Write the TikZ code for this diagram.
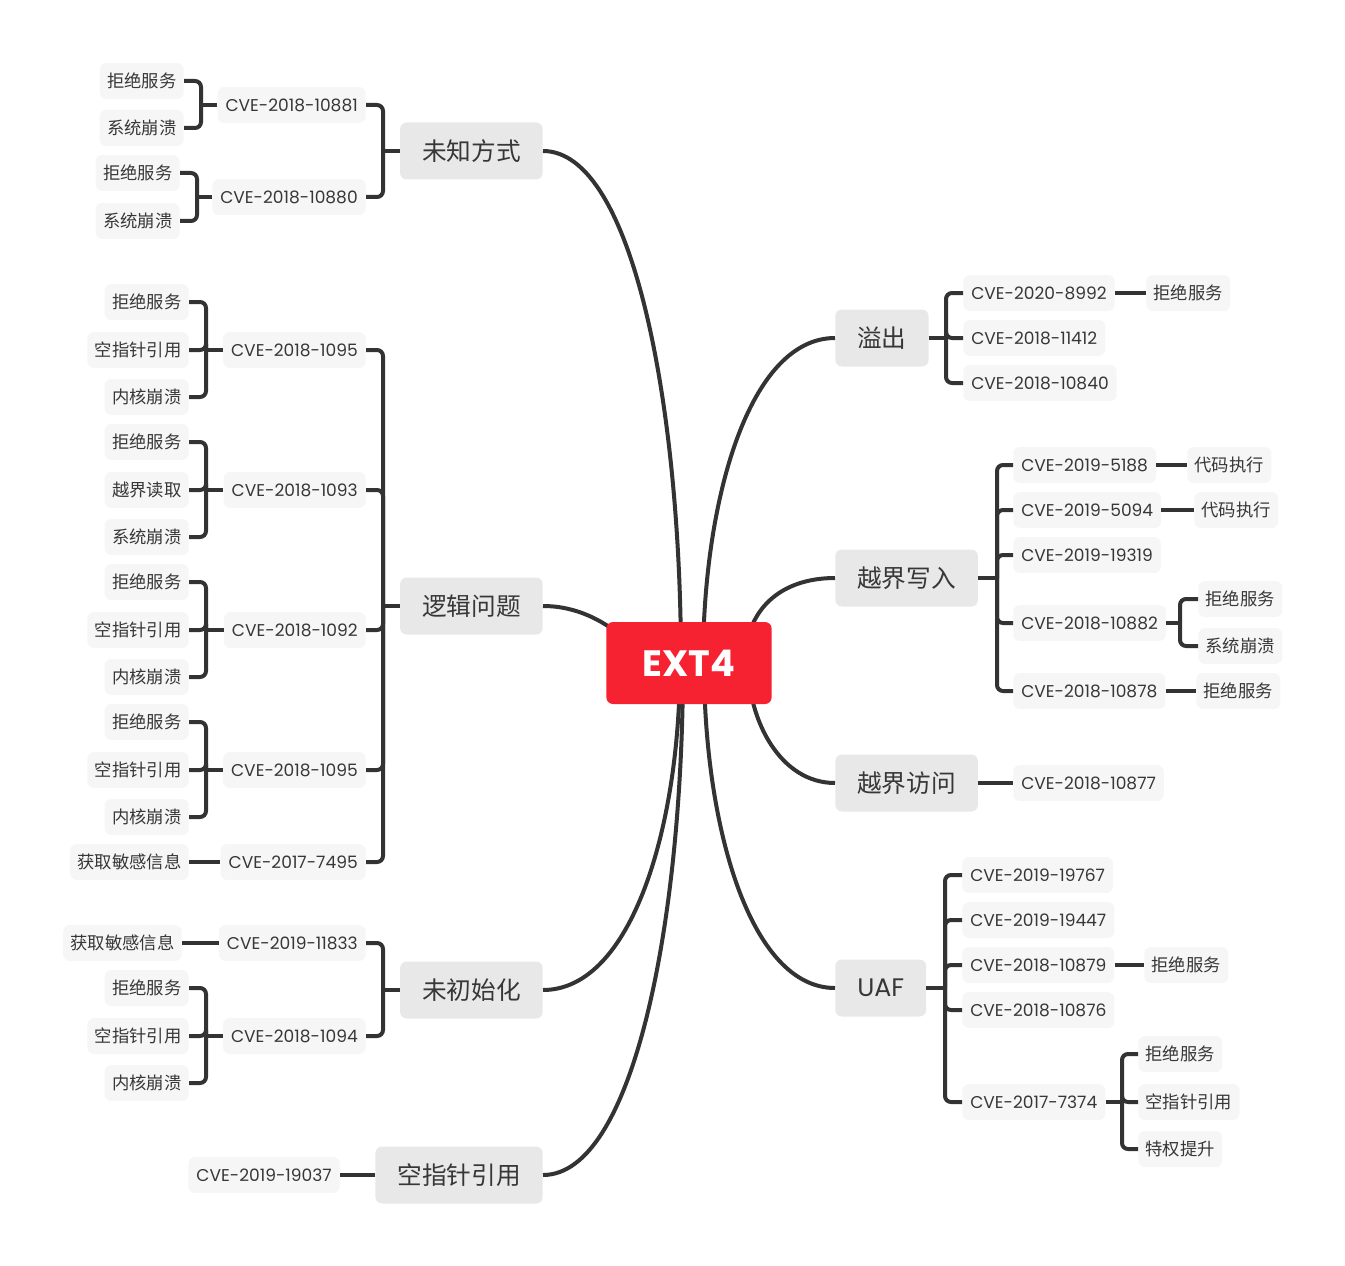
\documentclass[tikz,border=0pt]{standalone}
\usepackage{fontspec}
\setmainfont{Noto Sans CJK SC}
\newfontfamily\latinfont{Poppins}
\usepackage{tikz}
\usetikzlibrary{calc}
\definecolor{extred}{RGB}{246,33,49}
\definecolor{linegray}{RGB}{51,51,51}
\definecolor{topicgray}{RGB}{232,232,232}
\definecolor{leafgray}{RGB}{246,246,246}
\definecolor{textgray}{RGB}{55,55,55}
\tikzset{
    rootbox/.style={fill=extred, rounded corners=5pt, text=white, minimum width=124pt, minimum height=61.5pt,
        font=\latinfont\bfseries\fontsize{27.5pt}{30pt}\selectfont},
    topic/.style={fill=topicgray, rounded corners=5pt, text=textgray, minimum height=42.75pt, inner xsep=16.5pt,
        font=\fontsize{18.5pt}{21pt}\selectfont},
    cve/.style={fill=leafgray, rounded corners=5pt, text=textgray, minimum height=27pt, inner xsep=6pt,
        font=\latinfont\fontsize{12.8pt}{15pt}\selectfont},
    leaf/.style={fill=leafgray, rounded corners=5pt, text=textgray, minimum height=27pt, inner xsep=5.5pt,
        font=\fontsize{13pt}{15pt}\selectfont},
    branch/.style={draw=linegray, line width=3pt, rounded corners=4.5pt},
    curve/.style={draw=linegray, line width=3pt}
}

\begin{document}
\begin{tikzpicture}[x=0.75pt, y=-0.75pt]
    \useasboundingbox (0,0) rectangle (1345,1266);
    \coordinate (root) at (689,663);

    % Unknown way
    \node[topic, anchor=east] (unk) at (543,151) {未知方式};
    \coordinate (junk) at (383,151);
    \node[cve, anchor=east] (c10881) at (366,105) {CVE-2018-10881};
    \node[cve, anchor=east] (c10880) at (366,197) {CVE-2018-10880};
    \coordinate (j10881) at (201,105);
    \node[leaf, anchor=east] (c10881a) at (184,81) {拒绝服务};
    \node[leaf, anchor=east] (c10881b) at (184,128) {系统崩溃};
    \coordinate (j10880) at (197,197);
    \node[leaf, anchor=east] (c10880a) at (180,173) {拒绝服务};
    \node[leaf, anchor=east] (c10880b) at (180,221) {系统崩溃};
    \draw[branch] (unk.west) -- (junk);
    \draw[branch] (junk) |- (c10881.east);
    \draw[branch] (junk) |- (c10880.east);
    \draw[branch] (c10881.west) -- (j10881);
    \draw[branch] (j10881) |- (c10881a.east);
    \draw[branch] (j10881) |- (c10881b.east);
    \draw[branch] (c10880.west) -- (j10880);
    \draw[branch] (j10880) |- (c10880a.east);
    \draw[branch] (j10880) |- (c10880b.east);

    % Logic problems
    \node[topic, anchor=east] (logic) at (543,606) {逻辑问题};
    \coordinate (jlogic) at (383,606);
    \node[cve, anchor=east] (c1095a) at (366,350) {CVE-2018-1095};
    \node[cve, anchor=east] (c1093) at (366,490) {CVE-2018-1093};
    \node[cve, anchor=east] (c1092) at (366,630) {CVE-2018-1092};
    \node[cve, anchor=east] (c1095b) at (366,770) {CVE-2018-1095};
    \node[cve, anchor=east] (c7495) at (366,862) {CVE-2017-7495};
    \draw[branch] (logic.west) -- (jlogic);
    \foreach \c in {c1095a,c1093,c1092,c1095b,c7495}
        \draw[branch] (jlogic) |- (\c.east);

    \coordinate (jc1095a) at (206,350);
    \node[leaf, anchor=east] (c1095a1) at (189,302) {拒绝服务};
    \node[leaf, anchor=east] (c1095a2) at (189,350) {空指针引用};
    \node[leaf, anchor=east] (c1095a3) at (189,397) {内核崩溃};
    \coordinate (jc1093) at (206,490);
    \node[leaf, anchor=east] (c10931) at (189,442) {拒绝服务};
    \node[leaf, anchor=east] (c10932) at (189,490) {越界读取};
    \node[leaf, anchor=east] (c10933) at (189,537) {系统崩溃};
    \coordinate (jc1092) at (206,630);
    \node[leaf, anchor=east] (c10921) at (189,582) {拒绝服务};
    \node[leaf, anchor=east] (c10922) at (189,630) {空指针引用};
    \node[leaf, anchor=east] (c10923) at (189,677) {内核崩溃};
    \coordinate (jc1095b) at (206,770);
    \node[leaf, anchor=east] (c1095b1) at (189,722) {拒绝服务};
    \node[leaf, anchor=east] (c1095b2) at (189,770) {空指针引用};
    \node[leaf, anchor=east] (c1095b3) at (189,817) {内核崩溃};
    \node[leaf, anchor=east] (c74951) at (189,862) {获取敏感信息};
    \foreach \c in {c1095a,c1093,c1092,c1095b}{
        \draw[branch] (\c.west) -- (j\c);
        \foreach \i in {1,2,3}
            \draw[branch] (j\c) |- (\c\i.east);
    }
    \draw[branch] (c7495.west) -- (c74951.east);

    % Uninitialised
    \node[topic, anchor=east] (uninit) at (543,990) {未初始化};
    \coordinate (juninit) at (383,990);
    \node[cve, anchor=east] (c11833) at (366,943) {CVE-2019-11833};
    \node[cve, anchor=east] (c1094) at (366,1036) {CVE-2018-1094};
    \node[leaf, anchor=east] (c118331) at (182,943) {获取敏感信息};
    \coordinate (j1094) at (206,1036);
    \node[leaf, anchor=east] (c10941) at (189,988) {拒绝服务};
    \node[leaf, anchor=east] (c10942) at (189,1036) {空指针引用};
    \node[leaf, anchor=east] (c10943) at (189,1083) {内核崩溃};
    \draw[branch] (uninit.west) -- (juninit);
    \draw[branch] (juninit) |- (c11833.east);
    \draw[branch] (juninit) |- (c1094.east);
    \draw[branch] (c11833.west) -- (c118331.east);
    \draw[branch] (c1094.west) -- (j1094);
    \foreach \i in {1,2,3}
        \draw[branch] (j1094) |- (c1094\i.east);

    % Null pointer
    \node[topic, anchor=east] (nullp) at (543,1175) {空指针引用};
    \node[cve, anchor=east] (c19037) at (340,1175) {CVE-2019-19037};
    \draw[branch] (nullp.west) -- (c19037.east);

    % Overflow
    \node[topic, anchor=west] (ovf) at (835,338) {溢出};
    \coordinate (jovf) at (946,338);
    \node[cve, anchor=west] (c8992) at (963,293) {CVE-2020-8992};
    \node[cve, anchor=west] (c11412) at (963,338) {CVE-2018-11412};
    \node[cve, anchor=west] (c10840) at (963,383) {CVE-2018-10840};
    \node[leaf, anchor=west] (c89921) at (1146,293) {拒绝服务};
    \draw[branch] (ovf.east) -- (jovf);
    \foreach \c in {c8992,c11412,c10840}
        \draw[branch] (jovf) |- (\c.west);
    \draw[branch] (c8992.east) -- (c89921.west);

    % Out-of-bounds write
    \node[topic, anchor=west] (oobw) at (835,578) {越界写入};
    \coordinate (joobw) at (997,578);
    \node[cve, anchor=west] (c5188) at (1013,465) {CVE-2019-5188};
    \node[cve, anchor=west] (c5094) at (1013,510) {CVE-2019-5094};
    \node[cve, anchor=west] (c19319) at (1013,555) {CVE-2019-19319};
    \node[cve, anchor=west] (c10882) at (1013,623) {CVE-2018-10882};
    \node[cve, anchor=west] (c10878) at (1013,691) {CVE-2018-10878};
    \node[leaf, anchor=west] (c51881) at (1187,465) {代码执行};
    \node[leaf, anchor=west] (c50941) at (1194,510) {代码执行};
    \coordinate (j10882) at (1180,623);
    \node[leaf, anchor=west] (c108821) at (1198,599) {拒绝服务};
    \node[leaf, anchor=west] (c108822) at (1198,646) {系统崩溃};
    \node[leaf, anchor=west] (c108781) at (1196,691) {拒绝服务};
    \draw[branch] (oobw.east) -- (joobw);
    \foreach \c in {c5188,c5094,c19319,c10882,c10878}
        \draw[branch] (joobw) |- (\c.west);
    \draw[branch] (c5188.east) -- (c51881.west);
    \draw[branch] (c5094.east) -- (c50941.west);
    \draw[branch] (c10882.east) -- (j10882);
    \draw[branch] (j10882) |- (c108821.west);
    \draw[branch] (j10882) |- (c108822.west);
    \draw[branch] (c10878.east) -- (c108781.west);

    % Out-of-bounds access
    \node[topic, anchor=west] (ooba) at (835,783) {越界访问};
    \node[cve, anchor=west] (c10877) at (1013,783) {CVE-2018-10877};
    \draw[branch] (ooba.east) -- (c10877.west);

    % Use after free
    \node[topic, anchor=west, font=\latinfont\fontsize{19pt}{21pt}\selectfont] (uaf) at (835,988) {UAF};
    \coordinate (juaf) at (945,988);
    \node[cve, anchor=west] (c19767) at (962,875) {CVE-2019-19767};
    \node[cve, anchor=west] (c19447) at (962,920) {CVE-2019-19447};
    \node[cve, anchor=west] (c10879) at (962,965) {CVE-2018-10879};
    \node[cve, anchor=west] (c10876) at (962,1010) {CVE-2018-10876};
    \node[cve, anchor=west] (c7374) at (962,1102) {CVE-2017-7374};
    \node[leaf, anchor=west] (c108791) at (1144,965) {拒绝服务};
    \coordinate (j7374) at (1122,1102);
    \node[leaf, anchor=west] (c73741) at (1138,1054) {拒绝服务};
    \node[leaf, anchor=west] (c73742) at (1138,1102) {空指针引用};
    \node[leaf, anchor=west] (c73743) at (1138,1149) {特权提升};
    \draw[branch] (uaf.east) -- (juaf);
    \foreach \c in {c19767,c19447,c10879,c10876,c7374}
        \draw[branch] (juaf) |- (\c.west);
    \draw[branch] (c10879.east) -- (c108791.west);
    \draw[branch] (c7374.east) -- (j7374);
    \foreach \i in {1,2,3}
        \draw[branch] (j7374) |- (c7374\i.west);

    % Main curves (under the root box)
    \draw[curve] (unk.east) .. controls (633,151) and (681,407) .. ($(root)+(-8,0)$);
    \draw[curve] (logic.east) .. controls (590,606) and (625,635) .. ($(root)+(-40,0)$);
    \draw[curve] (uninit.east) .. controls (632,990) and (680,826) .. ($(root)+(-9,0)$);
    \draw[curve] (nullp.east) .. controls (634,1175) and (683,919) .. ($(root)+(-6,0)$);
    \draw[curve] (ovf.west) .. controls (749,338) and (703,500) .. ($(root)+(14,0)$);
    \draw[curve] (oobw.west) .. controls (780,578) and (745,610) .. ($(root)+(56,0)$);
    \draw[curve] (ooba.west) .. controls (780,783) and (748,720) .. ($(root)+(59,0)$);
    \draw[curve] (uaf.west) .. controls (750,988) and (704,826) .. ($(root)+(15,0)$);

    % Root
    \node[rootbox] (ext) at (root) {EXT4};
\end{tikzpicture}
\end{document}
